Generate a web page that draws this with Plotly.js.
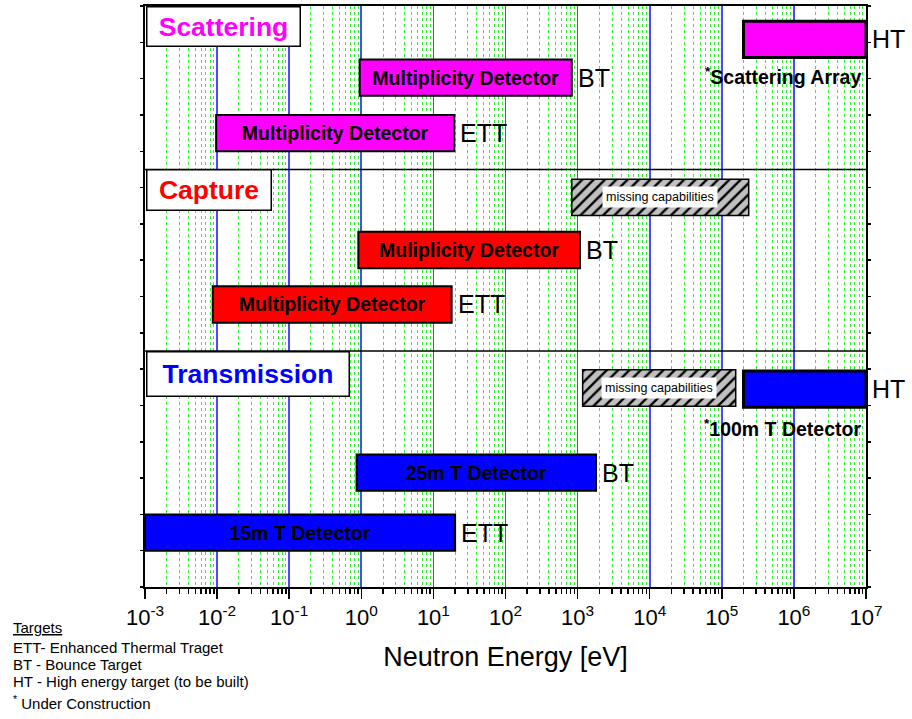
<!DOCTYPE html>
<html><head><meta charset="utf-8">
<script src="https://cdn.plot.ly/plotly-3.0.1.min.js"></script>
<style>html,body{margin:0;padding:0;background:#fff}</style>
</head><body><div id="chart" style="width:912px;height:719px"></div>
<script>
// ---------- data ----------
const scatLabels = ['HT', 'BT', 'ETT'];
const scatLow    = [2.0e5, 0.95, 0.0097];
const scatHigh   = [1.0e7, 830, 19.5];
const scatRow    = [15.08, 14.03, 12.5];
const scatText   = ['', 'Multiplicity Detector', 'Multiplicity Detector'];

const capLabels = ['BT', 'ETT'];
const capLow    = [0.91, 0.0087];
const capHigh   = [1080, 17.9];
const capRow    = [9.28, 7.78];
const capText   = ['Muliplicity Detector', 'Multiplicity Detector'];

const trLabels = ['HT', 'BT', 'ETT'];
const trLow    = [2.0e5, 0.86, 0.001];
const trHigh   = [1.0e7, 1800, 20];
const trRow    = [5.45, 3.15, 1.5];
const trText   = ['', '25m T Detector', '15m T Detector'];

const missLow  = [830, 1175];
const missHigh = [2.36e5, 1.56e5];
const missRow  = [10.73, 5.48];
const missText = ['missing capabilities', 'missing capabilities'];

const noteText = ['<sup>*</sup>Scattering Array', '<sup>*</sup>100m T Detector'];
const noteRow  = [14.06, 4.37];

const sectionNames = ['Scattering', 'Capture', 'Transmission'];
const sectionTop   = [16, 11.5, 6.5];
const separators   = [11.5, 6.5];

const tickExp = [-3, -2, -1, 0, 1, 2, 3, 4, 5, 6, 7];
const minorDigits = [2, 3, 4, 5, 6, 7, 8, 9];

const legendLines = ['<u>Targets</u>', 'ETT- Enhanced Thermal Traget', 'BT - Bounce Target',
                     'HT - High energy target (to be built)', '<sup>*</sup> Under Construction'];

// ---------- style ----------
const F = '"Liberation Sans", Arial, Helvetica, sans-serif';
const W = 912, H = 719;
const M = {l: 145, r: 46, t: 6, b: 132};
const sectionColors = ['#ff00ff', '#ff0000', '#0000ff'];
const sectionBox = [[152, 38], [123, 39], [201, 43]];

function barTrace(low, high, row, text, color, lw) {
  return {
    type: 'bar', orientation: 'h',
    y: row, base: low, x: high.map((h, i) => h - low[i]),
    width: 1, text: text, textposition: 'inside', insidetextanchor: 'middle',
    textangle: 0, constraintext: 'none',
    textfont: {family: F, size: 19.5, color: '#000', weight: 'bold'},
    marker: {color: color, line: {color: '#000', width: lw}},
    hoverinfo: 'skip', showlegend: false
  };
}

const traces = [
  barTrace(scatLow, scatHigh, scatRow, scatText, '#ff00ff', scatLabels.map(l => l === 'HT' ? 3 : 2)),
  barTrace(capLow, capHigh, capRow, capText, '#ff0000', capLabels.map(l => l === 'HT' ? 3 : 2)),
  barTrace(trLow, trHigh, trRow, trText, '#0000ff', trLabels.map(l => l === 'HT' ? 3 : 2)),
  {
    type: 'bar', orientation: 'h', y: missRow, base: missLow,
    x: missHigh.map((h, i) => h - missLow[i]), width: 1,
    marker: {color: '#c0c0c0', line: {color: '#000', width: 1.5},
             pattern: {shape: '/', fgcolor: '#000', bgcolor: '#c0c0c0', size: 8, solidity: 0.3, fillmode: 'replace'}},
    hoverinfo: 'skip', showlegend: false
  }
];

const annotations = [];
function addLabels(labels, high, row) {
  labels.forEach((lab, i) => annotations.push({
    x: Math.log10(high[i]), y: row[i], xref: 'x', yref: 'y', text: lab,
    xanchor: 'left', yanchor: 'middle', xshift: 4, showarrow: false,
    font: {family: F, size: 25, color: '#000'}
  }));
}
addLabels(scatLabels, scatHigh, scatRow);
addLabels(capLabels, capHigh, capRow);
addLabels(trLabels, trHigh, trRow);

missText.forEach((t, i) => annotations.push({
  x: (Math.log10(missLow[i]) + Math.log10(missHigh[i])) / 2, y: missRow[i],
  xref: 'x', yref: 'y', text: t, showarrow: false, bgcolor: '#fff', borderpad: 3,
  font: {family: F, size: 12.5, color: '#000'}
}));

noteText.forEach((t, i) => annotations.push({
  x: 7, y: noteRow[i], xref: 'x', yref: 'y', text: t, xanchor: 'right', xshift: -3,
  showarrow: false, font: {family: F, size: 19.5, color: '#000', weight: 'bold'}
}));

sectionNames.forEach((s, i) => annotations.push({
  x: 0, y: sectionTop[i], xref: 'paper', yref: 'y', xanchor: 'left', yanchor: 'top',
  xshift: 1, text: '<b>' + s + '</b>', showarrow: false,
  width: sectionBox[i][0], height: sectionBox[i][1], align: 'center', valign: 'middle',
  bgcolor: '#fff', bordercolor: '#000', borderwidth: 1.5, borderpad: 0,
  font: {family: F, size: 26.5, color: sectionColors[i]}
}));

const plotH = H - M.t - M.b, plotW = W - M.l - M.r;
const legendY = [627, 647, 664, 681, 702];
legendLines.forEach((t, i) => annotations.push({
  x: (11 - M.l) / plotW, y: (H - M.b - legendY[i]) / plotH, xref: 'paper', yref: 'paper',
  xanchor: 'left', yanchor: 'middle', text: t, showarrow: false, align: 'left',
  font: {family: F, size: 15, color: '#000'}
}));

const shapes = separators.map(v => ({
  type: 'line', xref: 'paper', x0: 0, x1: 1, yref: 'y', y0: v, y1: v,
  line: {color: '#000', width: 1.5}, layer: 'above'
}));

const minorVals = [];
tickExp.slice(0, -1).forEach(e => minorDigits.forEach(d => minorVals.push(d * Math.pow(10, e))));

const layout = {
  width: W, height: H, margin: M,
  paper_bgcolor: '#fff', plot_bgcolor: '#fff',
  font: {family: F, color: '#000'},
  barmode: 'overlay', showlegend: false,
  xaxis: {
    type: 'log', range: [-3, 7],
    tickmode: 'array', tickvals: tickExp.map(e => Math.pow(10, e)),
    ticktext: tickExp.map(e => '10<sup>' + e + '</sup>'),
    tickfont: {family: F, size: 22, color: '#000'},
    ticks: 'outside', ticklen: 10, tickwidth: 1.5, tickcolor: '#000',
    showline: true, linecolor: '#000', linewidth: 2, mirror: true,
    showgrid: true, gridcolor: '#4a4aff', gridwidth: 1.6,
    zeroline: false,
    minor: {tickmode: 'array', tickvals: minorVals, ticks: 'outside', ticklen: 5, tickwidth: 1.5, tickcolor: '#000',
            showgrid: true, gridcolor: '#33ee33', griddash: 'dot', gridwidth: 1},
    title: {text: 'Neutron Energy [eV]', font: {family: F, size: 27, color: '#000'}, standoff: 18}
  },
  yaxis: {
    range: [0, 16], dtick: 1, tick0: 0, showticklabels: false,
    ticks: 'outside', ticklen: 3, tickwidth: 1.5, tickcolor: '#000',
    showline: true, linecolor: '#000', linewidth: 2, mirror: 'ticks',
    showgrid: false, zeroline: false
  },
  annotations: annotations,
  shapes: shapes
};

Plotly.newPlot('chart', traces, layout, {displayModeBar: false, staticPlot: true});
</script>
</body></html>
